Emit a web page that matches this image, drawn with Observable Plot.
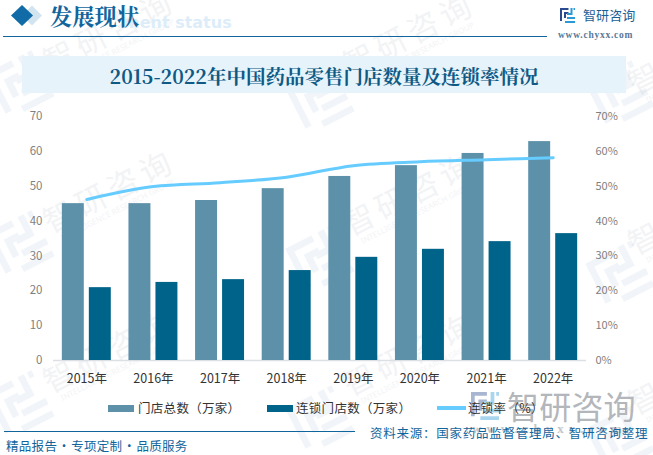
<!DOCTYPE html>
<html><head><meta charset="utf-8">
<script src="https://cdn.jsdelivr.net/npm/d3@7"></script>
<script src="https://cdn.jsdelivr.net/npm/@observablehq/plot@0.6"></script>
<style>
html,body{margin:0;padding:0;background:#fff;overflow:hidden}
#wrap{position:relative;width:653px;height:455px;overflow:hidden;font-family:"Noto Sans CJK SC","Noto Sans",sans-serif}
#wrap>*{position:absolute}
.t{white-space:nowrap;line-height:1}
.serif{font-family:"Noto Serif CJK SC","Noto Sans CJK SC",serif;font-weight:700}
#plot{left:0;top:0}
#plot svg{display:block;background:transparent}
.wm{color:#8a9aae;opacity:.11;transform-origin:0 0;white-space:nowrap;line-height:1}
</style></head><body>
<div id="wrap"></div>
<script>
const years = ["2015年","2016年","2017年","2018年","2019年","2020年","2021年","2022年"];
const totalStores = [45.0,45.0,45.9,49.3,52.8,55.9,59.4,62.8];
const chainStores = [20.9,22.4,23.2,25.8,29.6,31.9,34.1,36.4];
const chainRate = [46.2,49.9,51.0,52.6,55.9,57.0,57.6,58.2];
const leftTicks = [0,10,20,30,40,50,60,70];
const seriesNames = ["门店总数（万家）","连锁门店数（万家）","连锁率（%）"];
const colors = ["#5d91a9","#006389","#66ccff"];

const wrap = document.getElementById("wrap");
function add(html){const d=document.createElement("div");d.innerHTML=html;const e=d.firstElementChild;wrap.appendChild(e);return e;}
function logo(x,y,s,o,rot,mono){return add(`<svg style="left:${x}px;top:${y}px;opacity:${o};transform:rotate(${rot||0}deg)" width="${s}" height="${s}" viewBox="0 0 30 30">
<path d="M0 0H17V4H4V26H0Z M8 8H17V12H12V20H8Z" fill="${mono||'#2b4a8f'}"/>
<path d="M21 0H25V14H14V10H21Z M27 0H30V4H27Z M10 26H30V30H10Z M14 18H30V22H14Z" fill="${mono||'#2a9ad6'}"/></svg>`);}

// watermarks
[[37,48],[37,208],[37,368],[337,51],[337,211],[337,371],[622,70],[622,230],[622,390]].forEach(([x,y])=>{
  add(`<div class="wm" style="left:${x}px;top:${y}px;transform:rotate(-27deg);font-size:31px;letter-spacing:5px">智研咨询<div style="font-size:8px;margin-top:3px;margin-left:8px;font-family:'Noto Sans';letter-spacing:0">INTELLIGENCE RESEARCH GROUP</div></div>`);
});
[[20,85],[20,245],[20,405],[320,100],[320,260],[320,420],[620,95],[620,275],[620,440]].forEach(([x,y])=>logo(x-26,y-26,52,.09,-27,"#6f9cc4"));

// header
add(`<div class="t" style="left:123px;top:13px;font:700 16px 'DejaVu Sans',sans-serif;color:#dcedf9">ment status</div>`);
add(`<svg style="left:10px;top:4px" width="36" height="24"><path d="M22 1.5 L32 11.5 L22 21.5 L12 11.5Z" fill="#d3e4f1"/><path d="M12 1 L23 11.5 L12 22 L1 11.5Z" fill="#116ba6"/></svg>`);
add(`<div class="t serif" style="left:50px;top:4px;font-size:22.3px;color:#12659c">发展现状</div>`);
add(`<div style="left:3px;top:35.5px;width:544px;height:1.4px;background:#12659c"></div>`);
logo(560,8,15,1);
add(`<div class="t" style="left:583px;top:8px;font-size:13px;color:#1a5f96;letter-spacing:.1px">智研咨询</div>`);
add(`<div class="t" style="left:558px;top:30px;font:700 9.5px 'Liberation Serif',serif;color:#5a7898;letter-spacing:.75px">www.chyxx.com</div>`);
add(`<div style="left:22px;top:56px;width:604px;height:37px;background:#e6f3fb"></div>`);
add(`<div class="t serif" style="left:0;width:648px;text-align:center;top:67px;font-size:19.5px;color:#0f5a85">2015-2022年中国药品零售门店数量及连锁率情况</div>`);

// chart
const table = years.map((y,i)=>({y,total:totalStores[i],chain:chainStores[i],rate:chainRate[i]}));
const chart = Plot.plot({
  width:653,height:455,marginTop:116,marginBottom:95,marginLeft:53,marginRight:67,
  style:{background:"transparent",fontFamily:"'Noto Sans CJK SC','Noto Sans',sans-serif",overflow:"visible"},
  x:{domain:years,paddingInner:0.25,paddingOuter:0.125,round:false,axis:null},
  y:{domain:[0,70],ticks:leftTicks,axis:null},
  marks:[
    Plot.ruleY([0],{stroke:"#dcdfe3",strokeWidth:1.5}),
    Plot.axisX({tickSize:0,tickPadding:14,fontSize:12.5,color:"#333",anchor:"bottom",label:null}),
    Plot.axisY({anchor:"left",ticks:leftTicks,tickSize:0,tickPadding:11,fontSize:11.5,color:"#7f7f7f",label:null}),
    Plot.axisY({anchor:"right",ticks:leftTicks,tickSize:0,tickPadding:0,dx:9,fontSize:11,color:"#7f7f7f",label:null,tickFormat:d=>d+"%"}),
    Plot.barY(table,{x:"y",y:"total",fill:colors[0],dx:-13.5,insetLeft:14,insetRight:14}),
    Plot.barY(table,{x:"y",y:"chain",fill:colors[1],dx:13.5,insetLeft:14,insetRight:14}),
    Plot.lineY(table,{x:"y",y:"rate",stroke:colors[2],strokeWidth:3,curve:"monotone-x"})
  ]
});
const host=document.createElement("div");host.id="plot";host.appendChild(chart);wrap.appendChild(host);

// big watermark + legend
logo(471,392,28,.4);
add(`<div class="t" style="left:507px;top:389px;font-size:32px;color:#b3b6ba;letter-spacing:.2px">智研咨询</div>`);
add(`<div class="t" style="left:472px;top:421px;font:700 13px 'Liberation Serif',serif;color:#c3c6ca;letter-spacing:5px">www.chyxx.com</div>`);
const legY=408;
[[108,seriesNames[0],colors[0],30],[267,seriesNames[1],colors[1],29],[437,seriesNames[2],colors[2],31]].forEach(([x,n,c,g],i)=>{
  add(`<div style="left:${x}px;top:${legY-3.5+(i==2?1.5:0)}px;width:${i==2?29:26}px;height:${i==2?4:7}px;background:${c}"></div>`);
  add(`<div class="t" style="left:${x+g}px;top:${legY-6.5}px;font-size:12.5px;color:#333;letter-spacing:.3px">${n}</div>`);
});
// footer
add(`<div style="left:4px;top:430.8px;width:351px;height:1.4px;background:#12659c"></div>`);
add(`<div class="t" style="left:6px;top:440px;font-size:12.5px;color:#12659c;letter-spacing:.3px;word-spacing:-2.5px">精品报告 · 专项定制 · 品质服务</div>`);
add(`<div class="t" style="left:370px;top:426.5px;font-size:12.5px;color:#12659c;letter-spacing:.75px">资料来源：国家药品监督管理局、智研咨询整理</div>`);
</script></body></html>
